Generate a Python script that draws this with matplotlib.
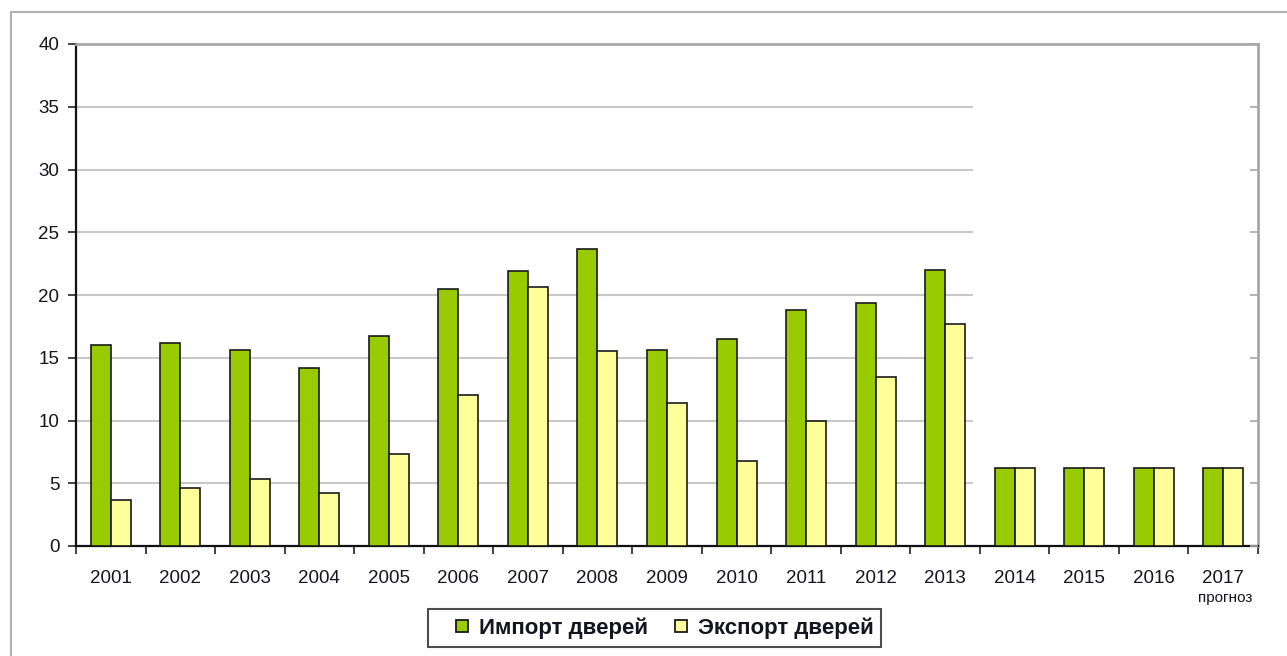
import matplotlib
matplotlib.use('Agg')
import matplotlib.pyplot as plt
from matplotlib.lines import Line2D
from matplotlib.transforms import blended_transform_factory
import numpy as np

years = ['2001', '2002', '2003', '2004', '2005', '2006', '2007', '2008', '2009',
         '2010', '2011', '2012', '2013', '2014', '2015', '2016', '2017']
imports = [16.0, 16.2, 15.6, 14.2, 16.7, 20.5, 21.9, 23.7, 15.6,
           16.5, 18.8, 19.4, 22.0, 6.2, 6.2, 6.2, 6.2]
exports = [3.7, 4.6, 5.3, 4.2, 7.3, 12.0, 20.6, 15.5, 11.4,
           6.8, 10.0, 13.5, 17.7, 6.2, 6.2, 6.2, 6.2]
yticks = [0, 5, 10, 15, 20, 25, 30, 35, 40]
series_names = ['Импорт дверей', 'Экспорт дверей']
forecast_note = 'прогноз'

plt.rcParams['font.family'] = ['Liberation Sans', 'DejaVu Sans']
W, H = 1287, 656
fig = plt.figure(figsize=(W / 100, H / 100), dpi=100)
fig.patch.set_facecolor('white')

L, R, T, B = 76, 1258, 44, 546
ax = fig.add_axes([L / W, 1 - B / H, (R - L) / W, (B - T) / H])

x = np.arange(len(years))
w = 0.288
green = '#99CC00'
yellow = '#FFFF99'
ax.bar(x - w / 2, imports, w, color=green, edgecolor='#1a1a1a', linewidth=1.2, zorder=3)
ax.bar(x + w / 2, exports, w, color=yellow, edgecolor='#1a1a1a', linewidth=1.2, zorder=3)

ax.set_xlim(-0.5, len(years) - 0.5)
ax.set_ylim(0, 40)

# gridlines (only over the historical part)
ax.hlines(yticks[1:-1], -0.5, 12.4, color='#c8c8c8', linewidth=1.5, zorder=1)

txtcol = '#151520'
ax.set_yticks(yticks)
ax.set_yticklabels([str(v) for v in yticks], fontsize=13.5, color=txtcol)
ax.tick_params(axis='y', direction='out', length=6, width=1.2, color='#222222', pad=6)

ax.set_xticks(x)
ax.set_xticklabels(years, fontsize=13.5, color=txtcol)
ax.tick_params(axis='x', which='major', length=0, pad=17)
ax.set_xticks(np.arange(len(years) + 1) - 0.5, minor=True)
ax.tick_params(axis='x', which='minor', direction='out', length=6, width=1.2, color='#222222')

for s in ['left', 'bottom']:
    ax.spines[s].set_color('#111111')
    ax.spines[s].set_linewidth(1.6)
for s in ['top', 'right']:
    ax.spines[s].set_color('#a8a8a8')
    ax.spines[s].set_linewidth(2)

# inward gray ticks on the right spine
ax2 = ax.twinx()
ax2.set_ylim(0, 40)
ax2.set_yticks(yticks)
ax2.tick_params(axis='y', direction='in', length=6, width=1.2, color='#a8a8a8', labelright=False)
for s in ax2.spines.values():
    s.set_visible(False)

trans = blended_transform_factory(ax.transData, ax.transAxes)
ax.text(16.03, -0.104, forecast_note, transform=trans, ha='center', va='center',
        fontsize=11, color=txtcol)

# legend
handles = [Line2D([], [], marker='s', linestyle='none', markersize=8,
                  markerfacecolor=c, markeredgecolor='#1a1a1a', markeredgewidth=1.3)
           for c in (green, yellow)]
leg = fig.legend(handles, series_names, loc='center', bbox_to_anchor=(654.5 / W, 1 - 628 / H),
                 ncol=2, frameon=True, fancybox=False, handletextpad=-0.45,
                 columnspacing=0.3, borderpad=0.35, handlelength=2.4,
                 prop={'size': 16, 'weight': 'semibold'})
leg.get_frame().set_edgecolor('#222222')
leg.get_frame().set_linewidth(1.5)
for t in leg.get_texts():
    t.set_color(txtcol)

# outer frame of the picture
fig.add_artist(Line2D([11 / W, 11 / W], [0, 1 - 12 / H], transform=fig.transFigure,
                      color='#b0b0b0', linewidth=1.5))
fig.add_artist(Line2D([11 / W, 1], [1 - 12 / H, 1 - 12 / H], transform=fig.transFigure,
                      color='#b0b0b0', linewidth=1.5))

fig.savefig('out.png', dpi=100)
